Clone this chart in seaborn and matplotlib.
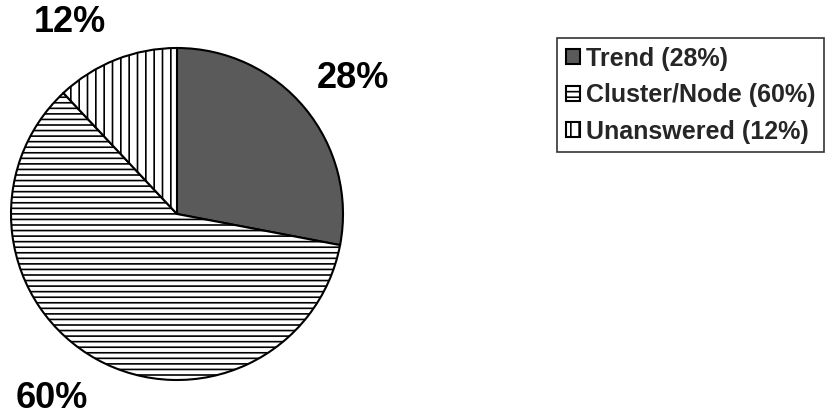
import matplotlib
matplotlib.use("Agg")
import matplotlib.pyplot as plt
import seaborn as sns

categories = ["Trend", "Cluster/Node", "Unanswered"]
values = [28, 60, 12]
pct_labels = ["28%", "60%", "12%"]
legend_labels = ["Trend (28%)", "Cluster/Node (60%)", "Unanswered (12%)"]

sns.set_theme(style="white")
plt.rcParams["font.family"] = ["Liberation Sans", "DejaVu Sans"]
plt.rcParams["hatch.linewidth"] = 1.2

W, H = 835, 415
fig = plt.figure(figsize=(W / 100, H / 100), dpi=100)
fig.patch.set_facecolor("white")

cx, cy, r = 177, 214, 166
ax = fig.add_axes([(cx - r) / W, (H - cy - r) / H, 2 * r / W, 2 * r / H])

faces = ["#5a5a5a", "white", "white"]
hatches = [None, "---", "||"]
wedges, _ = ax.pie(values, startangle=90, counterclock=False, radius=1,
                   wedgeprops=dict(edgecolor="black", linewidth=1.5))
for w, fc, h in zip(wedges, faces, hatches):
    w.set_facecolor(fc)
    if h:
        w.set_hatch(h)
ax.set_xlim(-1, 1)
ax.set_ylim(-1, 1)
ax.axis("off")

# percentage labels (pixel positions in figure)
label_pos = {"28%": (353, 78), "60%": (52, 398), "12%": (70, 23)}
for lab in pct_labels:
    x, y = label_pos[lab]
    fig.text(x / W, 1 - y / H, lab, ha="center", va="center",
             fontsize=26, fontweight="bold", color="black")

leg = fig.legend(wedges, legend_labels, loc="upper left",
                 bbox_to_anchor=(557 / W, 1 - 38 / H),
                 prop=dict(size=18, weight="bold"),
                 frameon=True, fancybox=False, edgecolor="black",
                 handlelength=0.55, handleheight=0.55, handletextpad=0.25,
                 labelspacing=0.5, borderpad=0.35, borderaxespad=0)
leg.get_frame().set_linewidth(1.2)

fig.savefig("out.png", dpi=100, facecolor="white")
